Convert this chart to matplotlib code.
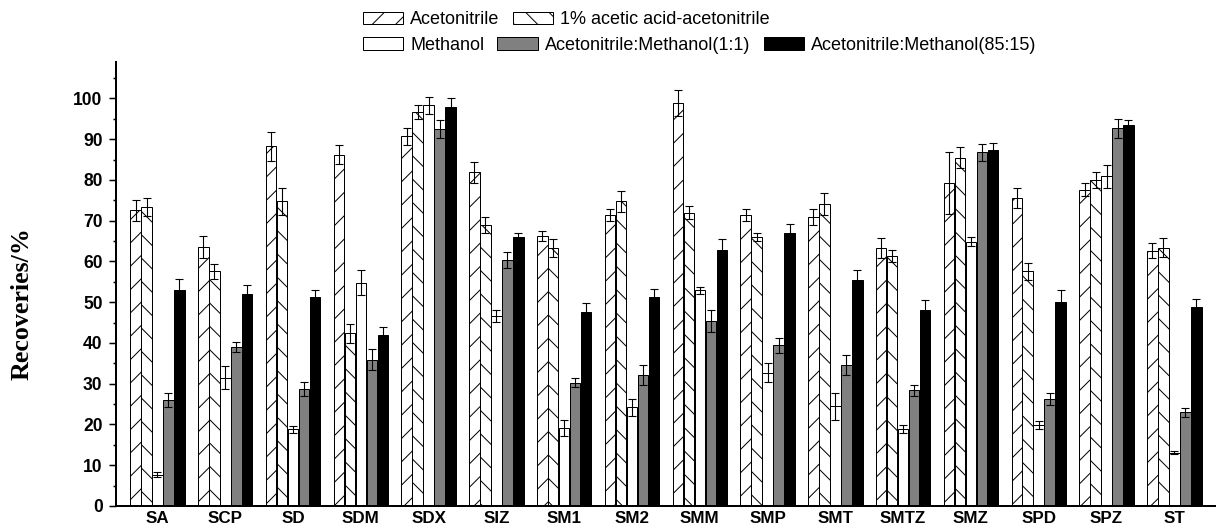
import matplotlib

matplotlib.use("Agg")
import matplotlib.pyplot as plt
from matplotlib.patches import Patch
from matplotlib.ticker import MultipleLocator
import numpy as np

DPI = 140
PX = 72 / DPI  # points per pixel, so sizes below can be read in pixels

plt.rcParams["font.family"] = ["Liberation Sans", "DejaVu Sans"]
plt.rcParams["hatch.linewidth"] = 1.0 * PX

categories = ["SA", "SCP", "SD", "SDM", "SDX", "SIZ", "SM1", "SM2",
              "SMM", "SMP", "SMT", "SMTZ", "SMZ", "SPD", "SPZ", "ST"]

acetonitrile = [72.5, 63.5, 88.2, 86.2, 90.7, 81.9, 66.2, 71.3, 98.9, 71.4, 70.9, 63.3, 79.2, 75.5, 77.6, 62.6]
acetonitrile_err = [2.5, 2.7, 3.6, 2.4, 2.1, 2.6, 1.3, 1.5, 3.2, 1.5, 2.0, 2.5, 7.6, 2.4, 1.6, 1.8]
acetic = [73.3, 57.6, 74.8, 42.4, 96.6, 68.9, 63.3, 74.8, 72.0, 66.0, 74.1, 61.3, 85.4, 57.6, 79.9, 63.4]
acetic_err = [2.2, 1.8, 3.3, 2.3, 1.7, 1.9, 2.2, 2.6, 1.6, 0.9, 2.6, 1.5, 2.6, 2.1, 2.0, 2.3]
methanol = [7.7, 31.5, 18.8, 54.8, 98.3, 46.6, 19.1, 24.2, 52.9, 32.7, 24.5, 18.8, 64.8, 19.8, 80.9, 13.1]
methanol_err = [0.7, 2.8, 0.8, 3.0, 2.1, 1.5, 2.0, 2.0, 0.8, 2.3, 3.3, 1.0, 1.1, 1.0, 2.8, 0.3]
mix_11 = [26.0, 39.1, 28.7, 35.9, 92.6, 60.4, 30.2, 32.1, 45.4, 39.4, 34.6, 28.4, 86.8, 26.3, 92.7, 23.0]
mix_11_err = [1.7, 1.2, 1.7, 2.5, 2.2, 1.9, 1.1, 2.5, 2.7, 1.8, 2.4, 1.4, 2.1, 1.4, 2.3, 1.1]
mix_8515 = [53.1, 52.0, 51.2, 41.9, 97.9, 66.0, 47.6, 51.2, 62.9, 67.0, 55.5, 48.2, 87.3, 50.1, 93.5, 48.9]
mix_8515_err = [2.7, 2.3, 1.9, 1.9, 2.3, 0.9, 2.3, 2.0, 2.6, 2.2, 2.5, 2.3, 1.7, 2.9, 1.2, 1.9]

labels = ["Acetonitrile", "1% acetic acid-acetonitrile", "Methanol",
          "Acetonitrile:Methanol(1:1)", "Acetonitrile:Methanol(85:15)"]
series = [(acetonitrile, acetonitrile_err), (acetic, acetic_err), (methanol, methanol_err),
          (mix_11, mix_11_err), (mix_8515, mix_8515_err)]
styles = [dict(facecolor="white", hatch="//"),
          dict(facecolor="white", hatch="\\\\"),
          dict(facecolor="white", hatch=None),
          dict(facecolor="#808080", hatch=None),
          dict(facecolor="black", hatch=None)]

fig = plt.figure(figsize=(1216 / DPI, 529 / DPI), dpi=DPI)
ax = fig.add_axes([116 / 1216, 23 / 529, 1 - 116 / 1216, (506 - 61.7) / 529])

x = np.arange(len(categories))
width = 0.155
step = 0.162
for i, ((vals, errs), st) in enumerate(zip(series, styles)):
    ax.bar(x + (i - 2) * step, vals, width, yerr=errs, edgecolor="black", linewidth=1.0 * PX,
           error_kw=dict(ecolor="black", elinewidth=1.1 * PX, capsize=3.8 * PX, capthick=1.1 * PX),
           **st)

ax.set_xlim(-0.612, 15.615)
ax.set_ylim(0, 109)
ax.set_xticks(x)
ax.set_xticklabels(categories, fontsize=17 * PX, fontweight="bold")
ax.yaxis.set_major_locator(MultipleLocator(10))
ax.yaxis.set_minor_locator(MultipleLocator(5))
ax.set_yticks(np.arange(0, 101, 10))
ax.tick_params(axis="y", which="major", length=7 * PX, width=1.5 * PX, pad=6.5 * PX,
               labelsize=17.5 * PX)
ax.tick_params(axis="y", which="minor", length=3.5 * PX, width=1.5 * PX)
ax.tick_params(axis="x", length=0, pad=5 * PX)
for lab in ax.get_yticklabels():
    lab.set_fontweight("bold")
for side in ["top", "right"]:
    ax.spines[side].set_visible(False)
for side in ["left", "bottom"]:
    ax.spines[side].set_linewidth(2 * PX)

fig.text(22.5 / 1216, 1 - 304 / 529, "Recoveries/%", rotation=90, ha="center", va="center",
         fontsize=26 * PX, fontweight="bold", family=["Liberation Serif", "DejaVu Serif"])

handles = [Patch(edgecolor="black", linewidth=1.0 * PX, **st) for st in styles]
leg_kw = dict(frameon=False, fontsize=18 * PX, handlelength=2.26, handleheight=0.7,
              handletextpad=0.37, columnspacing=0.74, borderpad=0, borderaxespad=0,
              loc="center left")
fig.legend(handles[:2], labels[:2], ncol=2, bbox_to_anchor=(362.7 / 1216, 1 - 19.7 / 529), **leg_kw)
fig.legend(handles[2:], labels[2:], ncol=3, bbox_to_anchor=(362.7 / 1216, 1 - 45 / 529), **leg_kw)

fig.savefig("out.png", dpi=DPI)
